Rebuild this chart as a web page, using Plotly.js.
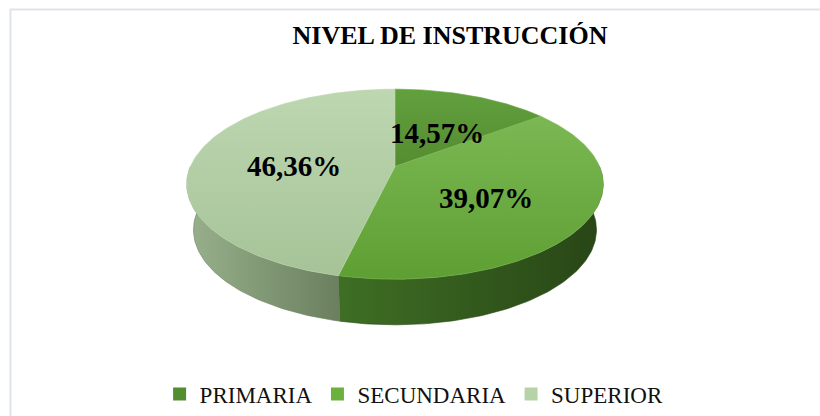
<!DOCTYPE html>
<html><head><meta charset="utf-8">
<script src="https://cdn.plot.ly/plotly-3.0.1.min.js"></script>
<style>html,body{margin:0;padding:0;background:#fff}#chart{width:820px;height:416px}</style>
</head><body><div id="chart"></div>
<script>
// ---- data ----
const categories = ['PRIMARIA', 'SECUNDARIA', 'SUPERIOR'];
const percentages = [14.57, 39.07, 46.36];
const chartTitle = 'NIVEL DE INSTRUCCIÓN';

// ---- styles ----
const topColors = [['#62a03d', '#558c31'], ['#7bb853', '#5e9f33'], ['#bdd7b1', '#a6c397']];
const sideColors = [['#3a661f', '#2c4d18'], ['#3e6f24', '#284516'], ['#98b18c', '#6a7f5e']];
const legendColors = ['#538d31', '#6cb13e', '#b5d3a7'];
const serif = '"Liberation Serif", "Times New Roman", Times, serif';

// pseudo-3D geometry (screen pixels, y downwards)
const G = {cx: 395, cy: 168, rx: 204.5, ry: 92.6, k: 0.1875, h: 46, sb: 0.968};
function proj(theta, r, lower) {
  const t = theta * Math.PI / 180;
  const u = r * Math.sin(t), w = -r * Math.cos(t);
  const d = 1 - G.k * w;
  let x = G.cx + G.rx * u / d, y = G.cy + G.ry * w / d;
  if (lower) { x = G.cx + (x - G.cx) * G.sb; y += G.h; }
  return [x, y];
}
function arc(a, b, r, lower) {
  const pts = [];
  const n = Math.max(2, Math.ceil(Math.abs(b - a)));
  for (let i = 0; i <= n; i++) pts.push(proj(a + (b - a) * i / n, r, lower));
  return pts;
}

const total = percentages.reduce((s, v) => s + v, 0);
const bounds = [];
let acc = 0;
percentages.forEach(v => { const a = acc / total * 360; acc += v; bounds.push([a, acc / total * 360]); });

const traces = [];
// side walls
bounds.forEach(([a, b], i) => {
  const a2 = Math.max(a, 90), b2 = Math.min(b, 270);
  if (a2 >= b2) return;
  const pts = arc(a2, b2, 1, false).concat(arc(b2, a2, 1, true));
  pts.push(pts[0]);
  const xs = pts.map(p => p[0]), ys = pts.map(p => p[1]);
  const lo = Math.min(...xs), hi = Math.max(...xs);
  traces.push({
    type: 'scatter', mode: 'lines', x: xs, y: ys, fill: 'toself',
    fillcolor: sideColors[i][0],
    fillgradient: {type: 'horizontal', start: hi, stop: lo,
      colorscale: [[0, sideColors[i][1]], [1, sideColors[i][0]]]},
    line: {width: 0.6, color: sideColors[i][1]},
    hoverinfo: 'skip', showlegend: false
  });
});
// top faces
bounds.forEach(([a, b], i) => {
  const pts = [proj(0, 0, false)].concat(arc(a, b, 1, false));
  pts.push(pts[0]);
  const ys = pts.map(p => p[1]);
  traces.push({
    type: 'scatter', mode: 'lines', x: pts.map(p => p[0]), y: ys, fill: 'toself',
    fillcolor: topColors[i][0],
    fillgradient: {type: 'vertical', start: Math.max(...ys), stop: Math.min(...ys),
      colorscale: [[0, topColors[i][1]], [1, topColors[i][0]]]},
    line: {width: 0.6, color: topColors[i][0]},
    hoverinfo: 'skip', showlegend: false
  });
});
// legend entries
categories.forEach((c, i) => {
  traces.push({type: 'scatter', mode: 'markers', x: [null], y: [null], name: c,
    marker: {symbol: 'square', size: 13, color: legendColors[i]}, hoverinfo: 'skip'});
});

const annotations = bounds.map(([a, b], i) => {
  const p = proj((a + b) / 2, 0.5, false);
  return {x: p[0], y: p[1], xref: 'x', yref: 'y', showarrow: false, yshift: -5,
    text: '<b>' + percentages[i].toFixed(2).replace('.', ',') + '%</b>',
    font: {family: serif, size: 29, color: '#000'}, xanchor: 'center', yanchor: 'middle'};
});

const layout = {
  width: 820, height: 416, margin: {l: 0, r: 0, t: 0, b: 0},
  paper_bgcolor: '#fff', plot_bgcolor: '#fff',
  title: {text: '<b>' + chartTitle + '</b>', x: 450 / 820, xanchor: 'center',
    y: 1 - 35 / 416, yanchor: 'middle', yref: 'container',
    font: {family: serif, size: 26, color: '#000'}},
  xaxis: {range: [0, 820], visible: false, fixedrange: true},
  yaxis: {range: [416, 0], visible: false, fixedrange: true},
  showlegend: true,
  legend: {orientation: 'h', x: 0.505, xanchor: 'center', y: 1 - 398 / 416, yanchor: 'middle',
    font: {family: serif, size: 23, color: '#111'}, bgcolor: 'rgba(0,0,0,0)', itemclick: false},
  annotations: annotations,
  shapes: [{type: 'rect', xref: 'paper', yref: 'paper', x0: 10.5 / 820, y0: -0.1, x1: 1.1, y1: 1 - 9.5 / 416,
    line: {color: '#dfe4ec', width: 2}, fillcolor: 'rgba(0,0,0,0)', layer: 'below'}]
};
Plotly.newPlot('chart', traces, layout, {displayModeBar: false, staticPlot: true});
</script></body></html>
